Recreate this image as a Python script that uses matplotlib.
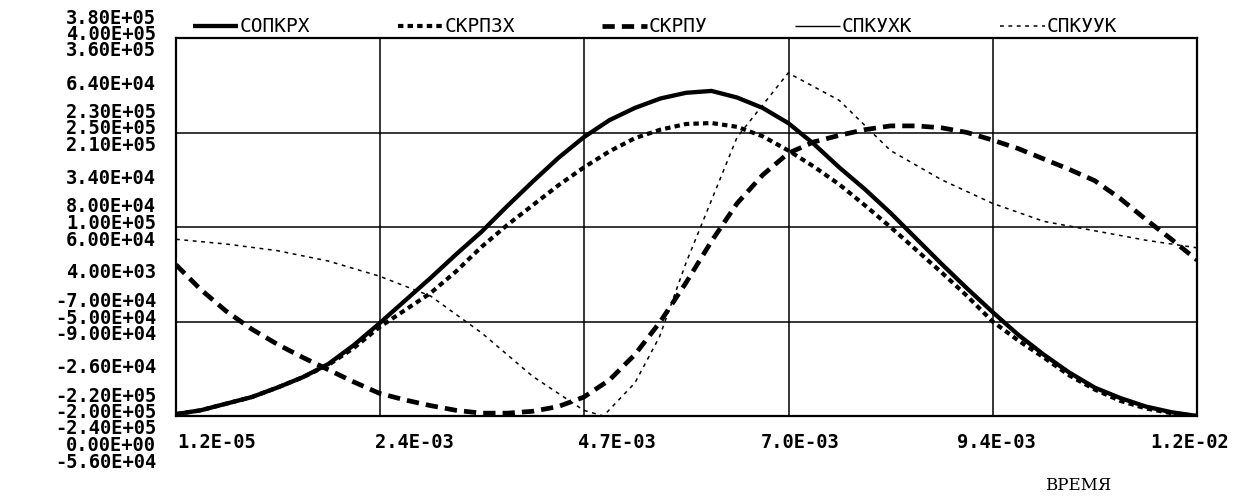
import matplotlib
matplotlib.use("Agg")
import matplotlib.pyplot as plt
from matplotlib.transforms import ScaledTranslation

# ---------------- data ----------------
series_names = ["СОПКРХ", "СКРПЗХ", "СКРПУ", "СПКУХК", "СПКУУК"]

time_s = [0.000012, 0.0003, 0.0006, 0.0009, 0.0012, 0.0015, 0.0018, 0.0021,
          0.0024, 0.0027, 0.0030, 0.0033, 0.0036, 0.0039, 0.0042, 0.0045,
          0.0048, 0.0051, 0.0054, 0.0057, 0.0060, 0.0063, 0.0066, 0.0069,
          0.0072, 0.0075, 0.0078, 0.0081, 0.0084, 0.0087, 0.0090, 0.0093,
          0.0096, 0.0099, 0.0102, 0.0105, 0.0108, 0.0111, 0.0114, 0.0117,
          0.0120]

sopkrx = [-217000, -211000, -200500, -190000, -175000, -158500, -137500,
          -107500, -73000, -37000, -1000, 36500, 72500, 113000, 152000,
          189500, 222500, 249500, 269000, 284000, 293000, 296000, 285500,
          269000, 245000, 212000, 174500, 140000, 102500, 62000, 21500,
          -17500, -55000, -91000, -122500, -151000, -175000, -191500,
          -205000, -214000, -220000]

skrpzx = [-197000, -191000, -180500, -170000, -155000, -138500, -119000,
          -92000, -59000, -32000, -5000, 29500, 68500, 103000, 134500,
          166000, 194500, 220000, 241000, 254500, 263500, 265000, 259000,
          244000, 221500, 196000, 167500, 134500, 100000, 64000, 28000,
          -9500, -50000, -80000, -107000, -135500, -158000, -176000,
          -188000, -195500, -200000]

skrpu = [0, -39000, -73500, -102000, -126000, -147000, -166500, -186000,
         -204000, -214500, -223500, -231000, -235500, -235500, -232500,
         -225000, -210000, -183000, -142500, -90000, -28500, 37500, 97500,
         142500, 177000, 195000, 205500, 214500, 220500, 220500, 217500,
         210000, 198000, 184500, 168000, 151500, 133500, 105000, 72000,
         40500, 7500]

spkuxk = [0] * len(time_s)

time_s5 = [0.000012, 0.0006, 0.0012, 0.0018, 0.0024, 0.0030, 0.0036, 0.0042,
           0.0048, 0.00503, 0.0054, 0.00569, 0.0060, 0.0066, 0.0072, 0.0078,
           0.0084, 0.0090, 0.0096, 0.0102, 0.0108, 0.0114, 0.0120]
spkuyk = [100, -1400, -3500, -6800, -11600, -17900, -29600, -43400,
          -54200, -56000, -45500, -30800, -7400, 32500, 52900, 44200,
          28300, 19000, 11500, 5800, 2800, -200, -2600]

# per-series scale: value at bottom and at top of the grid
scale_bottom = [-220000, -200000, -240000, 0, -56000]
scale_top = [380000, 400000, 360000, 0, 64000]

# y labels per series, from bottom grid line to top grid line
ylab_s1 = ["-2.20E+05", "-7.00E+04", "8.00E+04", "2.30E+05", "3.80E+05"]
ylab_s2 = ["-2.00E+05", "-5.00E+04", "1.00E+05", "2.50E+05", "4.00E+05"]
ylab_s3 = ["-2.40E+05", "-9.00E+04", "6.00E+04", "2.10E+05", "3.60E+05"]
ylab_s4 = ["0.00E+00", "", "", "", ""]
ylab_s5 = ["-5.60E+04", "-2.60E+04", "4.00E+03", "3.40E+04", "6.40E+04"]

xtick_vals = [0.000012, 0.0024096, 0.0048072, 0.0072048, 0.0096024, 0.012]
xtick_labels = ["1.2E-05", "2.4E-03", "4.7E-03", "7.0E-03", "9.4E-03", "1.2E-02"]
xlabel = "ВРЕМЯ"

# ---------------- figure ----------------
W, H = 1259, 496
fig = plt.figure(figsize=(W / 100, H / 100), dpi=100)
fig.patch.set_facecolor("white")
ax = fig.add_axes([176 / W, 80 / H, 1021 / W, 378 / H])
NDIV = 4
ax.set_xlim(xtick_vals[0], xtick_vals[-1])
ax.set_ylim(0, NDIV)


def to_grid(vals, k):
    b, t = scale_bottom[k], scale_top[k]
    if t == b:
        return [0.0 for _ in vals]
    return [(v - b) / (t - b) * NDIV for v in vals]


styles = [
    dict(lw=3.1, ls="-"),
    dict(lw=3.0, ls=(0, (1.3, 1.0))),
    dict(lw=3.4, ls=(0, (2.6, 1.5))),
    dict(lw=1.0, ls="-"),
    dict(lw=1.1, ls=(0, (2.5, 3.0))),
]
xs_list = [time_s, time_s, time_s, time_s, time_s5]
ys_list = [sopkrx, skrpzx, skrpu, spkuxk, spkuyk]

handles = []
for k in range(5):
    h, = ax.plot(xs_list[k], to_grid(ys_list[k], k), color="black",
                 solid_capstyle="butt", dash_capstyle="butt",
                 solid_joinstyle="round", label=series_names[k], zorder=3,
                 **styles[k])
    handles.append(h)

# grid
ax.set_xticks(xtick_vals)
ax.set_yticks(range(NDIV + 1))
ax.set_yticklabels([])
ax.grid(True, color="black", lw=1.1)
ax.tick_params(length=0)
for sp in ax.spines.values():
    sp.set_linewidth(1.6)
    sp.set_color("black")

mono_b = dict(family="DejaVu Sans Mono", weight="bold", size=13.5)

ax.set_xticklabels(xtick_labels, **mono_b)
ax.tick_params(axis="x", pad=12)
x_shift_px = [41, 34, 32, 12, 4, -7]
for lbl, dx in zip(ax.get_xticklabels(), x_shift_px):
    lbl.set_transform(lbl.get_transform() +
                      ScaledTranslation(dx / 100, 0, fig.dpi_scale_trans))

# stacked y labels (one per series at each grid line)
ylabs = [ylab_s1, ylab_s2, ylab_s3, ylab_s4, ylab_s5]
offs_px = [-20, -3.5, 13, 29.5, 46]
for k in range(5):
    for j in range(NDIV + 1):
        txt = ylabs[k][j]
        if not txt:
            continue
        ax.annotate(txt, xy=(0, j), xycoords=("axes fraction", "data"),
                    xytext=(-20 * 0.72, -offs_px[k] * 0.72),
                    textcoords="offset points", ha="right", va="center",
                    annotation_clip=False, **mono_b)

fig.text(1078 / W, 1 - 485 / H, xlabel, ha="center", va="center",
         family="DejaVu Serif", size=12)

fig.legend(handles, series_names, ncol=5, loc="center left",
           bbox_to_anchor=(193 / W, 1 - 27 / H), frameon=False,
           handlelength=2.3, handletextpad=0.1, columnspacing=4.5,
           borderpad=0, borderaxespad=0,
           prop=dict(family="DejaVu Sans Mono", size=14))

fig.savefig("out.png", dpi=100, facecolor="white")
